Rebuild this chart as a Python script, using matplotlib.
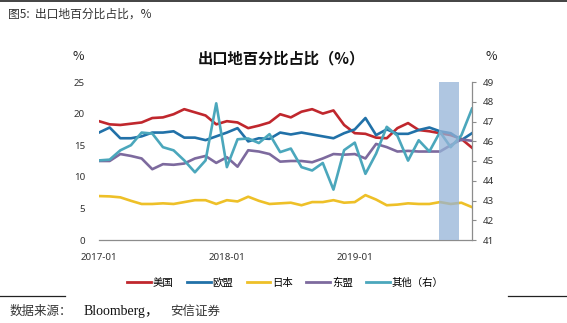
import matplotlib
matplotlib.use("Agg")
import matplotlib.pyplot as plt
from matplotlib.lines import Line2D

plt.rcParams['font.family'] = ['Noto Sans CJK SC', 'DejaVu Sans']

# ---- data (monthly, 2017-01 .. 2019-12) ----
months = list(range(36))
tick_pos = [0, 12, 24]
tick_labels = ["2017-01", "2018-01", "2019-01"]

us = [18.8, 18.3, 18.2, 18.4, 18.6, 19.3, 19.4, 19.9, 20.7, 20.2, 19.7, 18.3,
      18.8, 18.6, 17.7, 18.1, 18.6, 19.9, 19.4, 20.3, 20.7, 20.0, 20.5, 18.2,
      16.9, 16.8, 16.2, 16.1, 17.7, 18.5, 17.4, 17.2, 16.9, 16.6, 16.0, 14.6]
eu = [17.0, 17.8, 16.1, 16.1, 16.4, 17.0, 17.0, 17.2, 16.2, 16.2, 15.8, 16.4,
      17.0, 17.7, 15.6, 16.1, 16.0, 17.0, 16.7, 17.0, 16.7, 16.4, 16.1, 16.9,
      17.5, 19.3, 16.6, 17.5, 16.8, 16.8, 17.4, 17.8, 17.2, 16.9, 15.8, 16.9]
japan = [6.95, 6.9, 6.75, 6.2, 5.7, 5.7, 5.8, 5.7, 6.0, 6.3, 6.3, 5.7,
         6.3, 6.1, 6.85, 6.2, 5.7, 5.8, 5.9, 5.5, 6.0, 6.0, 6.3, 5.9,
         6.0, 7.1, 6.4, 5.5, 5.6, 5.8, 5.7, 5.7, 6.0, 5.7, 5.9, 5.2]
asean = [12.5, 12.5, 13.6, 13.3, 12.9, 11.2, 12.0, 11.9, 12.1, 12.9, 13.3, 12.2,
         13.1, 11.6, 14.2, 14.0, 13.6, 12.4, 12.5, 12.5, 12.3, 12.9, 13.6, 13.5,
         13.6, 12.9, 15.2, 14.7, 14.0, 14.1, 14.0, 14.0, 14.0, 15.0, 15.9, 15.7]
others = [45.03, 45.07, 45.54, 45.8, 46.44, 46.39, 45.7, 45.54, 45.03, 44.43, 45.03, 47.92,
          44.69, 46.1, 46.14, 45.91, 46.36, 45.45, 45.63, 44.69, 44.52, 44.9, 43.55, 45.55,
          45.93, 44.35, 45.37, 46.73, 46.28, 45.02, 46.05, 45.48, 46.47, 45.7, 46.3, 47.65]
highlight = (31.9, 33.8)

c_us, c_eu, c_jp, c_as, c_ot = "#C0272D", "#2171A8", "#EEC028", "#7D6A9E", "#4BA7BC"

fig = plt.figure(figsize=(5.67, 3.23), dpi=100)
ax = fig.add_axes([99/567, 1-240/323, 373/567, 158/323])
ax2 = ax.twinx()

lw = 1.9
ax.plot(months, us, color=c_us, lw=lw)
ax.plot(months, eu, color=c_eu, lw=lw)
ax.plot(months, japan, color=c_jp, lw=lw)
ax.plot(months, asean, color=c_as, lw=lw)
ax2.plot(months, others, color=c_ot, lw=lw)
ax2.axvspan(highlight[0], highlight[1], color="#95B3D7", alpha=0.75, lw=0, zorder=5)

ax.set_xlim(0, 35)
ax.set_ylim(0, 25)
ax2.set_ylim(41, 49)
ax.set_yticks([0, 5, 10, 15, 20, 25])
ax2.set_yticks(range(41, 50))
ax.set_xticks(tick_pos)
ax.set_xticklabels(tick_labels)

tfont = dict(family=['Noto Sans', 'DejaVu Sans'], size=7)
for lab in ax.get_xticklabels() + ax.get_yticklabels() + ax2.get_yticklabels():
    lab.set_fontfamily(['Noto Sans', 'DejaVu Sans'])
    lab.set_fontsize(7)
    lab.set_color("#333333")

for a in (ax, ax2):
    for s in ("top", "left"):
        a.spines[s].set_visible(False)
    a.spines["right"].set_visible(False)
    a.spines["bottom"].set_visible(False)
ax.spines["bottom"].set_visible(True)
ax.spines["bottom"].set_color("#8C8C8C")
ax.spines["bottom"].set_linewidth(0.9)
ax2.spines["right"].set_visible(True)
ax2.spines["right"].set_color("#8C8C8C")
ax2.spines["right"].set_linewidth(0.9)
ax.tick_params(axis="x", length=0, pad=9)
ax.tick_params(axis="y", length=0, pad=10)
ax2.tick_params(axis="y", length=3, width=0.8, color="#8C8C8C", pad=5)

# titles / unit labels
fig.text(281/567, 1-58/323, "出口地百分比占比（%）", ha="center", va="center",
         fontsize=11, fontweight="bold", color="#111111")
fig.text(78/567, 1-56/323, "%", ha="center", va="center", fontsize=9, color="#222222")
fig.text(491/567, 1-56/323, "%", ha="center", va="center", fontsize=9, color="#222222")

# header
fig.text(8/567, 1-14/323, "图5:  出口地百分比占比，%", ha="left", va="center",
         fontsize=8.5, color="#333333")
fig.add_artist(Line2D([0, 1], [1-1/323, 1-1/323], color="#222222", lw=1.2))

# legend
handles = [Line2D([], [], color=c, lw=2) for c in (c_us, c_eu, c_jp, c_as, c_ot)]
labels = ["美国", "欧盟", "日本", "东盟", "其他（右）"]
fig.legend(handles, labels, loc="center", bbox_to_anchor=(0.503, 1-283/323), ncol=5,
           frameon=False, fontsize=7.5, handlelength=2.3, handletextpad=0.15,
           columnspacing=1.3)

# footer
fig.add_artist(Line2D([0, 65/567], [1-296/323, 1-296/323], color="#222222", lw=0.9))
fig.add_artist(Line2D([508/567, 1], [1-296/323, 1-296/323], color="#222222", lw=0.9))
fig.text(10/567, 1-311/323, "数据来源：", ha="left", va="center", fontsize=9, color="#333333")
fig.text(84/567, 1-311/323, "Bloomberg，", ha="left", va="center", fontsize=10,
         family=['Liberation Serif', 'Noto Sans CJK SC'], color="#111111")
fig.text(170/567, 1-311/323, "安信证券", ha="left", va="center", fontsize=9, color="#333333")

fig.savefig("out.png", dpi=100)
